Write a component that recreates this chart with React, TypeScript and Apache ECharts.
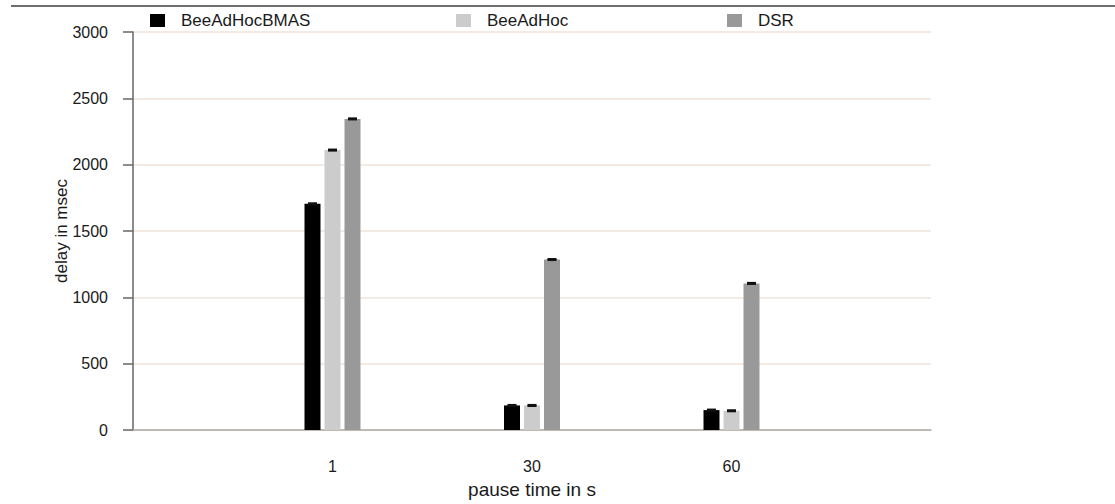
import React, { useEffect, useRef } from "react";
import * as echarts from "echarts";

const categories = ["", "1", "30", "60", ""];
const seriesNames = ["BeeAdHocBMAS", "BeeAdHoc", "DSR"];
const bmasValues = [1705, 185, 150];
const beeValues = [2110, 185, 145];
const dsrValues = [2345, 1285, 1105];
const bmasErr = [4, 4, 4];
const beeErr = [4, 4, 4];
const dsrErr = [4, 4, 4];
const yTicks = [0, 500, 1000, 1500, 2000, 2500, 3000];

const colors = ["#000000", "#cccccc", "#999999"];
const FONT = "Liberation Sans, Arial, sans-serif";
const BAR_W = 16;
const BAR_GAP = 4;

export default function App() {
  const ref = useRef<HTMLDivElement>(null);
  useEffect(() => {
    if (!ref.current) return;
    const chart = echarts.init(ref.current, undefined, { renderer: "svg" });
    const values = [bmasValues, beeValues, dsrValues];
    const errs = [bmasErr, beeErr, dsrErr];
    const pad = (arr: number[]) => ["-", ...arr, "-"];
    const errData: number[][] = [];
    values.forEach((vals, s) => {
      vals.forEach((v, i) => {
        errData.push([i + 1, v - errs[s][i], v + errs[s][i], s]);
      });
    });
    const legendBase = {
      orient: "horizontal",
      top: 12,
      padding: 0,
      icon: "rect",
      itemWidth: 15,
      itemHeight: 13,
      textStyle: {
        fontFamily: FONT,
        fontSize: 17,
        color: "#1a1a1a",
        padding: [0, 0, 0, 11],
      },
    };
    chart.setOption({
      animation: false,
      backgroundColor: "#ffffff",
      textStyle: { fontFamily: FONT },
      legend: [
        { ...legendBase, left: 150, data: [seriesNames[0]] },
        { ...legendBase, left: 456, data: [seriesNames[1]] },
        { ...legendBase, left: 727, data: [seriesNames[2]] },
      ],
      grid: { left: 133, right: 184, top: 32, bottom: 73, containLabel: false },
      graphic: [
        {
          type: "line",
          shape: { x1: 11, y1: 6, x2: 1115, y2: 6 },
          style: { stroke: "#6e6e6e", lineWidth: 2 },
        },
      ],
      xAxis: {
        type: "category",
        data: categories,
        boundaryGap: false,
        name: "pause time in s",
        nameLocation: "middle",
        nameGap: 50,
        nameMoveOverlap: false,
        nameTextStyle: { fontFamily: FONT, fontSize: 19, color: "#1a1a1a" },
        axisLine: { show: true, lineStyle: { color: "#b1a9a5", width: 1.5 } },
        axisTick: { show: false },
        axisLabel: {
          interval: 0,
          margin: 28,
          fontFamily: FONT,
          fontSize: 16,
          color: "#1a1a1a",
        },
        splitLine: { show: false },
      },
      yAxis: {
        type: "value",
        min: yTicks[0],
        max: yTicks[yTicks.length - 1],
        interval: yTicks[1] - yTicks[0],
        name: "delay in msec",
        nameLocation: "middle",
        nameGap: 63,
        nameMoveOverlap: false,
        nameTextStyle: { fontFamily: FONT, fontSize: 17, color: "#1a1a1a" },
        axisLine: { show: true, lineStyle: { color: "#666666", width: 1.5 } },
        axisTick: { show: true, length: 10, lineStyle: { color: "#666666", width: 1.5 } },
        axisLabel: {
          margin: 25,
          fontFamily: FONT,
          fontSize: 16,
          color: "#1a1a1a",
          formatter: (v: number) => String(v),
        },
        splitLine: { show: true, lineStyle: { color: "#efe3da", width: 1.5 } },
      },
      series: [
        ...values.map((vals, s) => ({
          name: seriesNames[s],
          type: "bar",
          data: pad(vals),
          barWidth: BAR_W,
          barGap: "25%",
          itemStyle: { color: colors[s] },
        })),
        {
          type: "custom",
          name: "err",
          data: errData,
          encode: { x: 0, y: [1, 2] },
          z: 10,
          renderItem: (params: any, api: any) => {
            const s = api.value(3);
            const off = (s - 1) * (BAR_W + BAR_GAP);
            const hi = api.coord([api.value(0), api.value(2)]);
            const lo = api.coord([api.value(0), api.value(1)]);
            const x = hi[0] + off;
            const hw = 4.5;
            const st = { stroke: "#111111", lineWidth: 2 };
            return {
              type: "group",
              children: [
                { type: "line", shape: { x1: x - hw, y1: hi[1], x2: x + hw, y2: hi[1] }, style: st },
                { type: "line", shape: { x1: x, y1: hi[1], x2: x, y2: lo[1] }, style: st },
                { type: "line", shape: { x1: x - hw, y1: lo[1], x2: x + hw, y2: lo[1] }, style: st },
              ],
            };
          },
        },
      ],
    });
    return () => chart.dispose();
  }, []);
  return (
    <div
      ref={ref}
      style={{ position: "fixed", left: 0, top: 0, width: 1115, height: 504 }}
    />
  );
}
